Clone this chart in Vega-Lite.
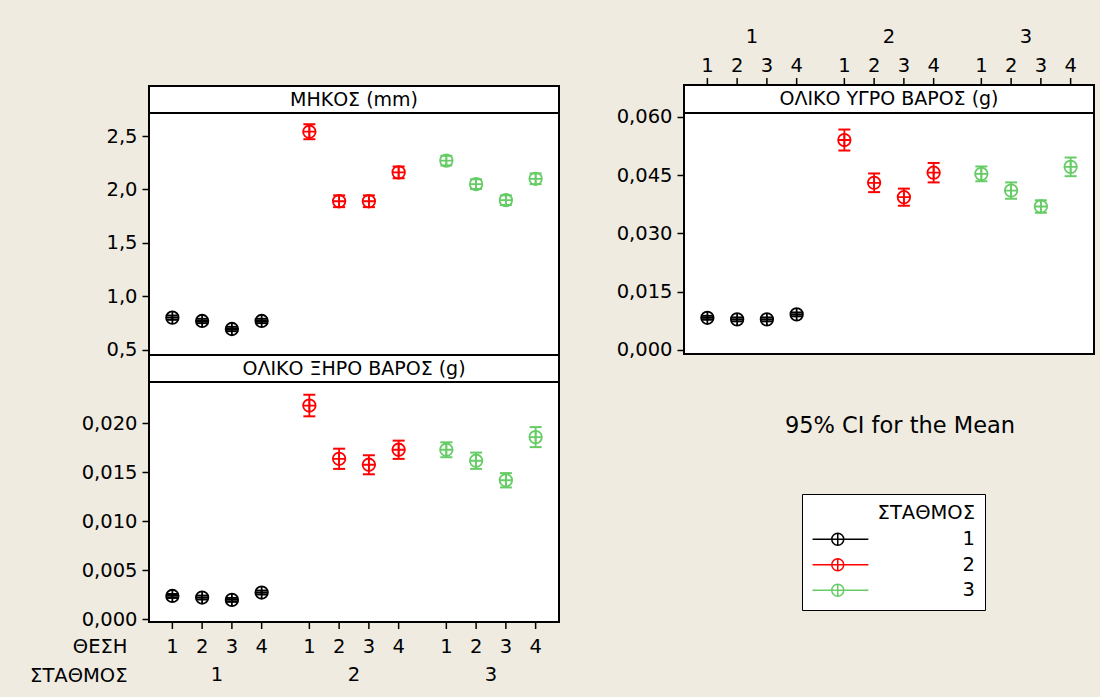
{
  "$schema": "https://vega.github.io/schema/vega-lite/v6.json",
  "background": "#EFEBE1",
  "padding": {"left": 29, "top": 16, "right": 5, "bottom": 4},
  "bounds": "full",
  "spacing": 55,
  "resolve": {"scale": {"x": "independent", "y": "independent", "xOffset": "independent", "color": "shared"}},
  "datasets": {
    "len": [
      {"st": "1", "pos": "1", "m": 0.802, "lo": 0.782, "hi": 0.822},
      {"st": "1", "pos": "2", "m": 0.771, "lo": 0.751, "hi": 0.791},
      {"st": "1", "pos": "3", "m": 0.696, "lo": 0.676, "hi": 0.716},
      {"st": "1", "pos": "4", "m": 0.771, "lo": 0.751, "hi": 0.791},
      {"st": "2", "pos": "1", "m": 2.54, "lo": 2.47, "hi": 2.61},
      {"st": "2", "pos": "2", "m": 1.89, "lo": 1.835, "hi": 1.945},
      {"st": "2", "pos": "3", "m": 1.89, "lo": 1.835, "hi": 1.945},
      {"st": "2", "pos": "4", "m": 2.16, "lo": 2.105, "hi": 2.215},
      {"st": "3", "pos": "1", "m": 2.27, "lo": 2.225, "hi": 2.315},
      {"st": "3", "pos": "2", "m": 2.05, "lo": 2.005, "hi": 2.095},
      {"st": "3", "pos": "3", "m": 1.9, "lo": 1.855, "hi": 1.945},
      {"st": "3", "pos": "4", "m": 2.1, "lo": 2.05, "hi": 2.15}
    ],
    "dry": [
      {"st": "1", "pos": "1", "m": 0.00238, "lo": 0.00218, "hi": 0.00258},
      {"st": "1", "pos": "2", "m": 0.00222, "lo": 0.00202, "hi": 0.00242},
      {"st": "1", "pos": "3", "m": 0.00198, "lo": 0.00178, "hi": 0.00218},
      {"st": "1", "pos": "4", "m": 0.00273, "lo": 0.00253, "hi": 0.00293},
      {"st": "2", "pos": "1", "m": 0.0218, "lo": 0.0207, "hi": 0.0229},
      {"st": "2", "pos": "2", "m": 0.01637, "lo": 0.01534, "hi": 0.0174},
      {"st": "2", "pos": "3", "m": 0.01576, "lo": 0.01479, "hi": 0.01673},
      {"st": "2", "pos": "4", "m": 0.01729, "lo": 0.01636, "hi": 0.01822},
      {"st": "3", "pos": "1", "m": 0.01729, "lo": 0.01653, "hi": 0.01805},
      {"st": "3", "pos": "2", "m": 0.01617, "lo": 0.01534, "hi": 0.017},
      {"st": "3", "pos": "3", "m": 0.01418, "lo": 0.01345, "hi": 0.01491},
      {"st": "3", "pos": "4", "m": 0.01858, "lo": 0.01756, "hi": 0.0196}
    ],
    "wet": [
      {"st": "1", "pos": "1", "m": 0.00828, "lo": 0.00778, "hi": 0.00878},
      {"st": "1", "pos": "2", "m": 0.00787, "lo": 0.00737, "hi": 0.00837},
      {"st": "1", "pos": "3", "m": 0.00787, "lo": 0.00737, "hi": 0.00837},
      {"st": "1", "pos": "4", "m": 0.00916, "lo": 0.00866, "hi": 0.00966},
      {"st": "2", "pos": "1", "m": 0.054, "lo": 0.0513, "hi": 0.0567},
      {"st": "2", "pos": "2", "m": 0.043, "lo": 0.0406, "hi": 0.0454},
      {"st": "2", "pos": "3", "m": 0.0393, "lo": 0.0371, "hi": 0.0415},
      {"st": "2", "pos": "4", "m": 0.0456, "lo": 0.0431, "hi": 0.0481},
      {"st": "3", "pos": "1", "m": 0.0453, "lo": 0.0434, "hi": 0.0472},
      {"st": "3", "pos": "2", "m": 0.041, "lo": 0.0389, "hi": 0.0431},
      {"st": "3", "pos": "3", "m": 0.0369, "lo": 0.0353, "hi": 0.0385},
      {"st": "3", "pos": "4", "m": 0.0471, "lo": 0.0447, "hi": 0.0495}
    ],
    "stations": [{"st": "1"}, {"st": "2"}, {"st": "3"}]
  },
  "hconcat": [
    {
      "bounds": "flush",
      "spacing": 0,
      "resolve": {"scale": {"x": "independent", "y": "independent", "xOffset": "independent", "color": "shared"}},
      "vconcat": [
        {"width": 410, "height": 70, "data": {"values": []}, "mark": "point"},
        {
          "width": 410, "height": 27,
          "view": {"fill": "white", "stroke": "black", "strokeWidth": 2},
          "data": {"values": [{"t": "ΜΗΚΟΣ (mm)"}]},
          "mark": {"type": "text", "fontSize": 19},
          "encoding": {"text": {"field": "t"}}
        },
        {
          "width": 410, "height": 242,
          "view": {"fill": "white", "stroke": "black", "strokeWidth": 2},
          "data": {"name": "len"},
          "encoding": {
            "x": {"field": "st", "type": "nominal", "scale": {"type": "band", "paddingInner": 0.131, "paddingOuter": 0.062}, "axis": null},
            "xOffset": {"field": "pos", "type": "nominal", "scale": {"type": "band", "paddingInner": 0, "paddingOuter": 0}},
            "color": {"field": "st", "type": "nominal", "scale": {"domain": ["1", "2", "3"], "range": ["#000000", "#FF0000", "#66CC66"]},
              "legend": {"title": "ΣΤΑΘΜΟΣ", "symbolType": "M-4.2,0H5.1M-1,0A1,1 0 1 1 1,0A1,1 0 1 1 -1,0M0,-1V1", "symbolFillColor": "transparent"}}
          },
          "layer": [
            {
              "mark": {"type": "point", "shape": "M-1,0A1,1 0 1 1 1,0A1,1 0 1 1 -1,0M-1,0H1M0,-1V1", "size": 156, "filled": false, "strokeWidth": 1.8, "opacity": 1},
              "encoding": {"y": {"field": "m", "type": "quantitative", "title": null,
                "scale": {"domain": [0.453, 2.715], "nice": false, "zero": false},
                "axis": {"values": [0.5, 1, 1.5, 2, 2.5], "labelExpr": "replace(format(datum.value, '.1f'), '.', ',')"}}}
            },
            {"mark": {"type": "rule", "strokeWidth": 1.8}, "encoding": {"y": {"field": "lo", "type": "quantitative", "title": null}, "y2": {"field": "hi"}}},
            {"mark": {"type": "point", "shape": "M-1,0H1", "size": 144, "filled": false, "strokeWidth": 2, "opacity": 1}, "encoding": {"y": {"field": "lo", "type": "quantitative", "title": null}}},
            {"mark": {"type": "point", "shape": "M-1,0H1", "size": 144, "filled": false, "strokeWidth": 2, "opacity": 1}, "encoding": {"y": {"field": "hi", "type": "quantitative", "title": null}}}
          ]
        },
        {
          "width": 410, "height": 27,
          "view": {"fill": "white", "stroke": "black", "strokeWidth": 2},
          "data": {"values": [{"t": "ΟΛΙΚΟ ΞΗΡΟ ΒΑΡΟΣ (g)"}]},
          "mark": {"type": "text", "fontSize": 19},
          "encoding": {"text": {"field": "t"}}
        },
        {
          "width": 410, "height": 240,
          "view": {"fill": "white", "stroke": "black", "strokeWidth": 2},
          "data": {"name": "dry"},
          "encoding": {
            "x": {"field": "st", "type": "nominal", "scale": {"type": "band", "paddingInner": 0.131, "paddingOuter": 0.062}, "axis": null},
            "xOffset": {"field": "pos", "type": "nominal", "scale": {"type": "band", "paddingInner": 0, "paddingOuter": 0}},
            "color": {"field": "st", "type": "nominal", "scale": {"domain": ["1", "2", "3"], "range": ["#000000", "#FF0000", "#66CC66"]},
              "legend": {"title": "ΣΤΑΘΜΟΣ", "symbolType": "M-4.2,0H5.1M-1,0A1,1 0 1 1 1,0A1,1 0 1 1 -1,0M0,-1V1", "symbolFillColor": "transparent"}}
          },
          "layer": [
            {
              "mark": {"type": "point", "shape": "M-1,0A1,1 0 1 1 1,0A1,1 0 1 1 -1,0M-1,0H1M0,-1V1", "size": 156, "filled": false, "strokeWidth": 1.8, "opacity": 1},
              "encoding": {"y": {"field": "m", "type": "quantitative", "title": null,
                "scale": {"domain": [-0.000274, 0.0242], "nice": false, "zero": false},
                "axis": {"values": [0, 0.005, 0.01, 0.015, 0.02], "labelExpr": "replace(format(datum.value, '.3f'), '.', ',')"}}}
            },
            {"mark": {"type": "rule", "strokeWidth": 1.8}, "encoding": {"y": {"field": "lo", "type": "quantitative", "title": null}, "y2": {"field": "hi"}}},
            {"mark": {"type": "point", "shape": "M-1,0H1", "size": 144, "filled": false, "strokeWidth": 2, "opacity": 1}, "encoding": {"y": {"field": "lo", "type": "quantitative", "title": null}}},
            {"mark": {"type": "point", "shape": "M-1,0H1", "size": 144, "filled": false, "strokeWidth": 2, "opacity": 1}, "encoding": {"y": {"field": "hi", "type": "quantitative", "title": null}}}
          ]
        },
        {
          "width": 410, "height": 7,
          "data": {"name": "dry"},
          "mark": {"type": "rule", "strokeWidth": 1.5, "color": "black"},
          "encoding": {
            "x": {"field": "st", "type": "nominal", "scale": {"type": "band", "paddingInner": 0.131, "paddingOuter": 0.062}, "axis": null},
            "xOffset": {"field": "pos", "type": "nominal", "scale": {"type": "band", "paddingInner": 0, "paddingOuter": 0}}
          }
        },
        {
          "width": 410, "height": 64,
          "layer": [
            {
              "data": {"name": "dry"},
              "mark": {"type": "text", "fontSize": 19.5, "color": "black"},
              "encoding": {
                "x": {"field": "st", "type": "nominal", "scale": {"type": "band", "paddingInner": 0.131, "paddingOuter": 0.062}, "axis": null},
                "xOffset": {"field": "pos", "type": "nominal", "scale": {"type": "band", "paddingInner": 0, "paddingOuter": 0}},
                "y": {"datum": "ΘΕΣΗ", "type": "nominal", "title": null,
                  "scale": {"type": "point", "domain": ["ΘΕΣΗ", "ΣΤΑΘΜΟΣ"], "padding": 0.631, "align": 0.5},
                  "axis": {"domain": false, "ticks": false, "labelPadding": 22}},
                "text": {"field": "pos"}
              }
            },
            {
              "data": {"name": "stations"},
              "mark": {"type": "text", "fontSize": 19.5, "color": "black"},
              "encoding": {
                "x": {"field": "st", "type": "nominal"},
                "y": {"datum": "ΣΤΑΘΜΟΣ", "type": "nominal"},
                "text": {"field": "st"}
              }
            }
          ]
        }
      ]
    },
    {
      "bounds": "flush",
      "spacing": 0,
      "resolve": {"scale": {"x": "independent", "y": "independent", "xOffset": "independent", "color": "shared"}},
      "vconcat": [
        {
          "width": 410, "height": 62,
          "layer": [
            {
              "data": {"name": "wet"},
              "mark": {"type": "text", "fontSize": 19.5, "color": "black"},
              "encoding": {
                "x": {"field": "st", "type": "nominal", "scale": {"type": "band", "paddingInner": 0.131, "paddingOuter": 0.062}, "axis": null},
                "xOffset": {"field": "pos", "type": "nominal", "scale": {"type": "band", "paddingInner": 0, "paddingOuter": 0}},
                "y": {"datum": "ΘΕΣΗ", "type": "nominal",
                  "scale": {"type": "point", "domain": ["ΣΤΑΘΜΟΣ", "ΘΕΣΗ"], "padding": 0.569, "align": 0.627},
                  "axis": null},
                "text": {"field": "pos"}
              }
            },
            {
              "data": {"name": "stations"},
              "mark": {"type": "text", "fontSize": 19.5, "color": "black"},
              "encoding": {
                "x": {"field": "st", "type": "nominal"},
                "y": {"datum": "ΣΤΑΘΜΟΣ", "type": "nominal"},
                "text": {"field": "st"}
              }
            }
          ]
        },
        {
          "width": 410, "height": 7,
          "data": {"name": "wet"},
          "mark": {"type": "rule", "strokeWidth": 1.5, "color": "black"},
          "encoding": {
            "x": {"field": "st", "type": "nominal", "scale": {"type": "band", "paddingInner": 0.131, "paddingOuter": 0.062}, "axis": null},
            "xOffset": {"field": "pos", "type": "nominal", "scale": {"type": "band", "paddingInner": 0, "paddingOuter": 0}}
          }
        },
        {
          "width": 410, "height": 28,
          "view": {"fill": "white", "stroke": "black", "strokeWidth": 2},
          "data": {"values": [{"t": "ΟΛΙΚΟ ΥΓΡΟ ΒΑΡΟΣ (g)"}]},
          "mark": {"type": "text", "fontSize": 19},
          "encoding": {"text": {"field": "t"}}
        },
        {
          "width": 410, "height": 241,
          "view": {"fill": "white", "stroke": "black", "strokeWidth": 2},
          "data": {"name": "wet"},
          "encoding": {
            "x": {"field": "st", "type": "nominal", "scale": {"type": "band", "paddingInner": 0.131, "paddingOuter": 0.062}, "axis": null},
            "xOffset": {"field": "pos", "type": "nominal", "scale": {"type": "band", "paddingInner": 0, "paddingOuter": 0}},
            "color": {"field": "st", "type": "nominal", "scale": {"domain": ["1", "2", "3"], "range": ["#000000", "#FF0000", "#66CC66"]},
              "legend": {"title": "ΣΤΑΘΜΟΣ", "symbolType": "M-4.2,0H5.1M-1,0A1,1 0 1 1 1,0A1,1 0 1 1 -1,0M0,-1V1", "symbolFillColor": "transparent"}}
          },
          "layer": [
            {
              "mark": {"type": "point", "shape": "M-1,0A1,1 0 1 1 1,0A1,1 0 1 1 -1,0M-1,0H1M0,-1V1", "size": 156, "filled": false, "strokeWidth": 1.8, "opacity": 1},
              "encoding": {"y": {"field": "m", "type": "quantitative", "title": null,
                "scale": {"domain": [-0.00103, 0.06095], "nice": false, "zero": false},
                "axis": {"values": [0, 0.015, 0.03, 0.045, 0.06], "labelExpr": "replace(format(datum.value, '.3f'), '.', ',')"}}}
            },
            {"mark": {"type": "rule", "strokeWidth": 1.8}, "encoding": {"y": {"field": "lo", "type": "quantitative", "title": null}, "y2": {"field": "hi"}}},
            {"mark": {"type": "point", "shape": "M-1,0H1", "size": 144, "filled": false, "strokeWidth": 2, "opacity": 1}, "encoding": {"y": {"field": "lo", "type": "quantitative", "title": null}}},
            {"mark": {"type": "point", "shape": "M-1,0H1", "size": 144, "filled": false, "strokeWidth": 2, "opacity": 1}, "encoding": {"y": {"field": "hi", "type": "quantitative", "title": null}}}
          ]
        },
        {
          "width": 410, "height": 144,
          "data": {"values": [{"t": "95% CI for the Mean"}]},
          "mark": {"type": "text", "fontSize": 22.5, "dx": 11},
          "encoding": {"text": {"field": "t"}}
        }
      ]
    }
  ],
  "config": {
    "font": "DejaVu Sans",
    "view": {"stroke": null},
    "text": {"font": "DejaVu Sans", "fontSize": 19.5, "color": "black"},
    "axis": {
      "labelFont": "DejaVu Sans", "labelFontSize": 19.5, "labelColor": "black",
      "tickColor": "black", "tickSize": 7, "tickWidth": 1.5,
      "domain": false, "grid": false, "labelPadding": 5
    },
    "legend": {
      "orient": "none", "legendX": 653, "legendY": 478,
      "titleFont": "DejaVu Sans", "titleFontSize": 19.5, "titleFontWeight": "normal", "titleColor": "black",
      "titleAnchor": "end", "titlePadding": 6,
      "labelFont": "DejaVu Sans", "labelFontSize": 19.5, "labelColor": "black",
      "symbolSize": 144, "symbolStrokeWidth": 1.5, "symbolOffset": 16, "symbolFillColor": "transparent",
      "labelOffset": 115, "rowPadding": 4.5, "padding": 10,
      "strokeColor": "black", "fillColor": "white"
    }
  }
}
